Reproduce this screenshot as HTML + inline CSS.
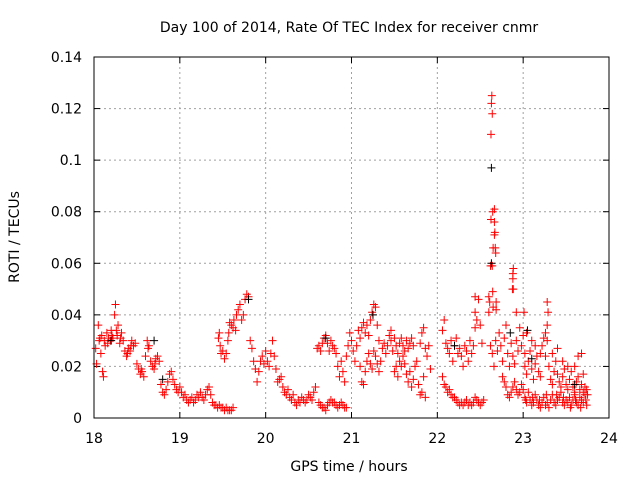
<!DOCTYPE html>
<html><head><meta charset="utf-8"><style>
html,body{margin:0;padding:0;background:#fff;}
svg{display:block;font-family:"DejaVu Sans","Liberation Sans",sans-serif;}
</style></head><body>
<svg id="chart" width="640" height="480" viewBox="0 0 640 480">
<rect width="640" height="480" fill="#fff"/>
<text x="349" y="32" font-size="14" text-anchor="middle">Day 100 of 2014, Rate Of TEC Index for receiver cnmr</text>
<text x="349" y="471" font-size="14" text-anchor="middle">GPS time / hours</text>
<text x="0" y="0" font-size="14" text-anchor="middle" transform="translate(19,237) rotate(-90)">ROTI / TECUs</text>
<g id="grid"></g>
<g id="ticks"></g>
<g id="marks"></g>
<rect x="94" y="57" width="515" height="361" fill="none" stroke="#000" stroke-width="1"/>
</svg>
<script>
const xTicks = [18,19,20,21,22,23,24];
const yTicks = [0,0.02,0.04,0.06,0.08,0.1,0.12,0.14];
const yTickLabels = ["0","0.02","0.04","0.06","0.08","0.1","0.12","0.14"];
const redSamples = [
[18.02,.027],[18.03,.021],[18.05,.036],[18.06,.030],[18.08,.025],[18.09,.032],[18.10,.018],[18.11,.016],[18.13,.028],[18.15,.033],[18.17,.031],[18.19,.030],[18.20,.034],[18.22,.031],[18.24,.040],[18.25,.044],[18.27,.032],[18.28,.036],[18.30,.029],[18.32,.033],[18.34,.030],[18.36,.026],[18.38,.024],[18.40,.027],[18.42,.026],[18.44,.030],[18.46,.028],[18.48,.029],[18.50,.021],[18.52,.019],[18.54,.017],[18.56,.018],[18.58,.016],[18.60,.024],[18.62,.030],[18.64,.028],[18.66,.022],[18.68,.020],[18.70,.019],[18.72,.023],[18.74,.024],[18.76,.022],[18.78,.013],[18.80,.010],[18.82,.009],[18.84,.011],[18.86,.014],[18.88,.017],[18.90,.018],[18.92,.015],[18.94,.013],[18.96,.011],[18.98,.010],
[18.07,.031],[18.12,.030],[18.16,.029],[18.21,.032],[18.26,.034],[18.31,.031],[18.39,.025],[18.43,.028],[18.55,.019],[18.63,.027],[18.71,.021],
[19.00,.012],[19.02,.010],[19.04,.008],[19.06,.009],[19.08,.007],[19.10,.006],[19.12,.007],[19.14,.008],[19.16,.006],[19.18,.007],[19.20,.009],[19.22,.008],[19.24,.010],[19.26,.008],[19.28,.007],[19.30,.009],[19.32,.011],[19.34,.012],[19.36,.009],[19.38,.006],[19.40,.005],[19.42,.005],[19.44,.004],[19.46,.005],[19.48,.004],[19.50,.004],[19.52,.003],[19.54,.004],[19.56,.003],[19.58,.003],[19.60,.003],[19.62,.004],
[19.45,.031],[19.46,.033],[19.47,.028],[19.48,.025],[19.50,.026],[19.52,.023],[19.54,.025],[19.56,.030],[19.57,.033],[19.58,.037],[19.60,.036],[19.62,.035],[19.63,.038],[19.65,.034],[19.66,.040],[19.68,.042],[19.70,.044],[19.72,.038],[19.74,.040],[19.76,.046],[19.78,.048],[19.80,.047],[19.82,.030],[19.84,.027],[19.86,.022],[19.88,.019],[19.90,.014],[19.92,.018],[19.94,.022],[19.96,.024],[19.98,.021],[20.00,.026],[20.02,.022],[20.04,.020],[20.06,.025],[20.08,.030],[20.10,.024],[20.12,.019],[20.14,.014],[20.16,.015],[20.18,.016],[20.20,.012],[20.22,.010],[20.24,.009],[20.26,.011],[20.28,.008],[20.30,.007],[20.32,.009],[20.34,.006],[20.36,.005],[20.38,.007],[20.40,.006],[20.42,.008],[20.44,.007],[20.46,.006],[20.48,.007],[20.50,.009],[20.52,.008],[20.54,.007],[20.56,.010],[20.58,.012],[20.60,.027],[20.62,.028],[20.64,.026],[20.66,.029],[20.68,.031],[20.70,.032],[20.72,.029],[20.74,.026],[20.76,.030],[20.78,.028],[20.80,.027],[20.82,.025],
[20.62,.006],[20.64,.005],[20.66,.004],[20.68,.004],[20.70,.003],[20.72,.005],[20.74,.006],[20.76,.007],[20.78,.006],[20.80,.006],[20.82,.005],[20.84,.004],[20.86,.005],[20.88,.006],[20.90,.005],[20.92,.004],[20.94,.004],
[20.84,.020],[20.86,.016],[20.88,.022],[20.90,.018],[20.92,.014],[20.94,.024],[20.96,.028],[20.98,.033],[21.00,.030],[21.02,.026],[21.04,.022],[21.06,.028],[21.08,.034],
[21.10,.031],[21.12,.035],[21.14,.037],[21.16,.033],[21.18,.036],[21.20,.032],[21.22,.038],[21.24,.041],[21.26,.044],[21.28,.043],[21.30,.036],[21.32,.030],
[21.10,.020],[21.12,.014],[21.14,.013],[21.16,.018],[21.18,.022],[21.20,.025],[21.22,.021],[21.24,.019],[21.26,.026],[21.28,.024],[21.30,.021],[21.32,.018],[21.34,.022],[21.36,.027],[21.38,.029],[21.40,.025],[21.42,.028],[21.44,.032],[21.46,.030],[21.48,.026],
[21.46,.034],[21.50,.031],[21.52,.028],[21.54,.025],[21.56,.029],[21.58,.031],[21.60,.028],[21.62,.026],[21.64,.030],[21.66,.027],[21.68,.029],[21.70,.031],[21.72,.028],
[21.50,.018],[21.52,.020],[21.54,.016],[21.56,.022],[21.58,.020],[21.60,.024],[21.62,.021],[21.64,.017],[21.66,.014],[21.68,.018],[21.70,.012],[21.72,.015],[21.74,.020],[21.76,.022],[21.78,.013],[21.80,.009],[21.82,.010],[21.84,.016],[21.86,.008],
[21.80,.029],[21.82,.033],[21.84,.035],[21.86,.027],[21.88,.024],[21.90,.028],[21.92,.019],
[22.06,.016],[22.08,.013],[22.10,.012],[22.12,.010],[22.14,.011],[22.16,.009],[22.18,.008],[22.20,.008],[22.22,.007],[22.24,.006],[22.26,.005],[22.28,.006],[22.30,.005],[22.32,.006],[22.34,.007],[22.36,.005],[22.38,.006],[22.40,.005],[22.42,.006],[22.44,.008],[22.46,.007],[22.48,.006],[22.50,.005],[22.52,.006],[22.54,.007],
[22.06,.034],[22.08,.038],[22.10,.029],[22.12,.027],[22.14,.025],[22.16,.030],[22.18,.022],[22.20,.028],[22.22,.031],[22.24,.025],[22.26,.027],[22.28,.024],[22.30,.020],[22.32,.028],[22.34,.026],[22.36,.022],[22.38,.030],[22.40,.025],[22.42,.028],[22.44,.035],[22.46,.038],[22.48,.046],[22.50,.036],[22.52,.029],
[22.635,.125],[22.63,.122],[22.64,.118],[22.625,.110],[22.645,.080],[22.665,.081],[22.625,.077],[22.665,.076],[22.67,.072],[22.665,.071],[22.65,.066],[22.675,.066],[22.68,.064],[22.62,.059],[22.64,.059],[22.885,.058],[22.88,.056],[22.88,.054],[22.875,.050],[22.885,.050],[22.645,.049],[22.44,.047],[22.60,.047],[22.61,.045],[22.65,.043],[22.685,.045],[22.44,.041],[22.60,.041],[22.685,.042],[22.92,.041],[23.01,.041],[23.28,.045],[23.29,.041],
[22.62,.028],[22.64,.025],[22.66,.020],[22.68,.030],[22.70,.026],[22.72,.033],[22.74,.028],[22.76,.022],[22.78,.031],[22.80,.036],[22.82,.025],[22.84,.020],[22.86,.029],[22.88,.024],[22.90,.021],[22.92,.030],[22.94,.026],[22.96,.035],[22.98,.028],[23.00,.032],[23.02,.025],
[22.76,.016],[22.78,.014],[22.80,.012],[22.82,.009],[22.84,.008],[22.86,.010],[22.88,.012],[22.90,.014],[22.92,.011],[22.94,.009],[22.96,.010],[22.98,.013],[23.00,.011],
[23.02,.008],[23.04,.006],[23.06,.010],[23.08,.007],[23.10,.005],[23.12,.006],[23.14,.009],[23.16,.007],[23.18,.005],[23.20,.004],[23.22,.006],[23.24,.008],[23.26,.005],[23.28,.006],[23.30,.004],[23.32,.007],[23.34,.009],[23.36,.006],[23.38,.005],[23.40,.007],[23.42,.008],[23.44,.010],[23.46,.006],[23.48,.005],[23.50,.007],[23.52,.006],[23.54,.008],[23.56,.005],[23.58,.007],[23.60,.009],[23.62,.006],[23.64,.005],[23.66,.008],[23.68,.007],[23.70,.006],[23.72,.009],[23.74,.005],
[23.03,.007],[23.11,.008],[23.19,.007],[23.27,.009],[23.39,.009],[23.47,.008],[23.55,.004],[23.61,.007],[23.67,.004],[23.73,.007],[23.75,.009],
[23.02,.020],[23.04,.017],[23.06,.022],[23.08,.026],[23.10,.019],[23.12,.015],[23.14,.021],[23.16,.024],[23.18,.018],[23.20,.016],[23.22,.028],[23.24,.031],[23.26,.024],[23.28,.036],[23.30,.020],[23.32,.015],[23.34,.013],[23.36,.018],[23.38,.022],[23.40,.017],[23.42,.014],[23.44,.012],[23.46,.016],[23.48,.019],[23.50,.013],[23.52,.011],[23.54,.015],[23.56,.018],[23.58,.012],[23.60,.010],[23.62,.014],[23.64,.016],[23.66,.011],[23.68,.013],[23.70,.010],[23.72,.012],[23.74,.011],
[23.04,.033],[23.10,.030],[23.14,.028],[23.20,.025],[23.26,.033],[23.28,.030],[23.34,.025],[23.40,.027],[23.46,.022],[23.52,.020],[23.60,.020],[23.64,.024],[23.68,.025],[23.70,.017]
];
const blackSamples = [[18.20,.030],[18.70,.030],[18.80,.015],[19.80,.046],[20.70,.031],[21.25,.040],[22.20,.028],[22.63,.060],[22.63,.097],[22.85,.033],[23.05,.034],[23.10,.023],[23.60,.013]];

const X0=94,X1=609,Y0=418,Y1=57;
function xScale(h){return X0+(h-18)/6*(X1-X0);}
function yScale(v){return Y0-v/0.14*(Y0-Y1);}
const NS="http://www.w3.org/2000/svg";
const grid=document.getElementById('grid'),ticks=document.getElementById('ticks'),marks=document.getElementById('marks');
function mk(tag,attrs,parent){const e=document.createElementNS(NS,tag);for(const k in attrs)e.setAttribute(k,attrs[k]);parent.appendChild(e);return e;}
xTicks.forEach(function(t,i){
  const x=xScale(t);
  if(i>0&&i<xTicks.length-1){
    const g=mk('line',{x1:x,y1:Y1,x2:x,y2:Y0,stroke:'#a0a0a0','stroke-dasharray':'2,3'},grid);
    
    
  }
  mk('line',{x1:x,y1:Y0,x2:x,y2:Y0-6,stroke:'#000'},ticks);
  mk('line',{x1:x,y1:Y1,x2:x,y2:Y1+6,stroke:'#000'},ticks);
  const tx=mk('text',{x:x,y:443,'font-size':14,'text-anchor':'middle'},ticks);
  tx.textContent=String(t);
  
  
});
yTicks.forEach(function(t,i){
  const y=yScale(t);
  if(i>0&&i<yTicks.length-1){
    const g=mk('line',{x1:X0,y1:y,x2:X1,y2:y,stroke:'#a0a0a0','stroke-dasharray':'2,3'},grid);
    
    
  }
  mk('line',{x1:X0,y1:y,x2:X0+6,y2:y,stroke:'#000'},ticks);
  mk('line',{x1:X1,y1:y,x2:X1-6,y2:y,stroke:'#000'},ticks);
  const tx=mk('text',{x:82,y:y+5,'font-size':14,'text-anchor':'end'},ticks);
  tx.textContent=yTickLabels[i];
  
  
});
function plus(h,v,color){
  const x=xScale(h),y=yScale(v);
  const p=mk('path',{d:'M'+(x-4)+' '+y+'H'+(x+4)+'M'+x+' '+(y-4)+'V'+(y+4),stroke:color,'stroke-width':1,fill:'none'},marks);
  
  
}
redSamples.forEach(function(s){plus(s[0],s[1],'#ff0000');});
blackSamples.forEach(function(s){plus(s[0],s[1],'#000000');});
</script>
</body></html>
